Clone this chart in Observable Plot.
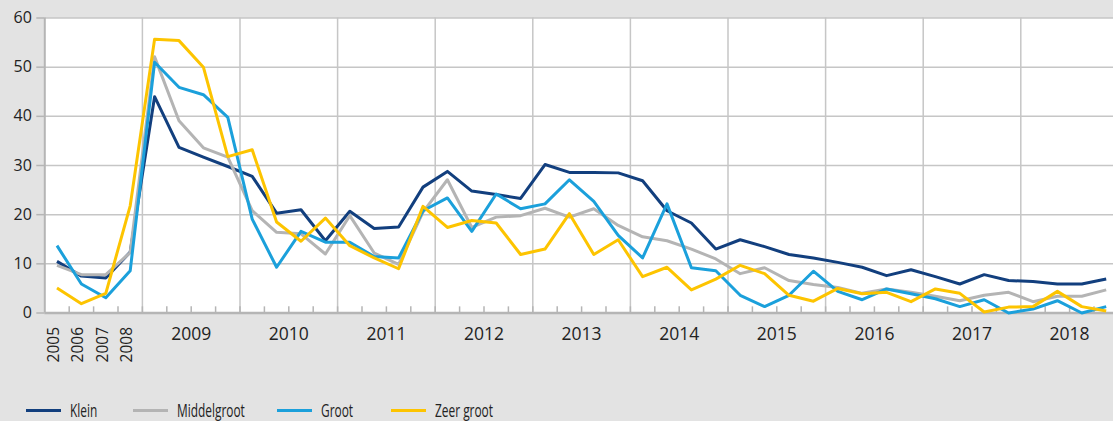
<!DOCTYPE html>
<html><head><meta charset="utf-8">
<script src="https://cdn.jsdelivr.net/npm/d3@7"></script>
<script src="https://cdn.jsdelivr.net/npm/@observablehq/plot@0.6"></script>
<style>
html,body{margin:0;padding:0;background:#e3e3e3;}
body{position:relative;width:1113px;height:421px;overflow:hidden;font-family:"Open Sans",sans-serif;}
#chart svg{display:block;}
#legend{position:absolute;left:0;top:398px;width:1113px;height:24px;font-family:"Open Sans",sans-serif;font-size:17.5px;color:#222;}
.item{position:absolute;top:0;height:24px;display:flex;align-items:center;white-space:nowrap;}
.sw{width:35px;height:3px;margin-right:9px;flex:none;}
.lt{display:inline-block;transform:scaleX(0.68);transform-origin:0 50%;}
</style></head><body>
<div id="chart"></div><div id="legend"></div>
<script>
const periods = [
  "2005","2006","2007","2008",
  "2009 K1","2009 K2","2009 K3","2009 K4",
  "2010 K1","2010 K2","2010 K3","2010 K4",
  "2011 K1","2011 K2","2011 K3","2011 K4",
  "2012 K1","2012 K2","2012 K3","2012 K4",
  "2013 K1","2013 K2","2013 K3","2013 K4",
  "2014 K1","2014 K2","2014 K3","2014 K4",
  "2015 K1","2015 K2","2015 K3","2015 K4",
  "2016 K1","2016 K2","2016 K3","2016 K4",
  "2017 K1","2017 K2","2017 K3","2017 K4",
  "2018 K1","2018 K2","2018 K3","2018 K4"
];
const annualLabels = ["2005","2006","2007","2008"];
const yearLabels = ["2009","2010","2011","2012","2013","2014","2015","2016","2017","2018"];
const yTicks = [0,10,20,30,40,50,60];

const seriesNames = ["Klein","Middelgroot","Groot","Zeer groot"];
const seriesColors = ["#123f7e","#b4b4b4","#1ba0db","#fdc400"];

const klein = [10.5,7.5,7.1,12.4, 44.0,33.7,31.7,29.8, 27.8,20.3,21.0,14.7, 20.7,17.2,17.5,25.6,
  28.8,24.8,24.1,23.3, 30.2,28.6,28.6,28.5, 26.9,20.8,18.3,13.0, 14.9,13.5,11.9,11.2,
  10.3,9.3,7.6,8.8, 7.4,5.9,7.8,6.6, 6.4,5.9,5.9,6.9];
const middelgroot = [9.7,7.8,7.8,12.3, 52.1,39.1,33.6,31.7, 20.8,16.4,16.1,12.0, 19.8,12.2,9.9,20.5,
  27.1,17.4,19.5,19.8, 21.3,19.5,21.2,17.8, 15.5,14.7,13.0,11.0, 8.0,9.2,6.6,5.8,
  5.2,4.0,4.9,4.2, 3.4,2.5,3.6,4.2, 2.3,3.4,3.4,4.7];
const groot = [13.7,5.9,3.1,8.6, 51.0,45.9,44.4,39.8, 19.1,9.3,16.6,14.4, 14.4,11.5,11.2,20.8,
  23.4,16.6,24.2,21.2, 22.2,27.1,22.7,15.8, 11.2,22.2,9.2,8.6, 3.6,1.3,3.6,8.5,
  4.4,2.7,4.9,3.9, 2.9,1.3,2.7,0.0, 0.8,2.5,0.0,1.3];
const zeerGroot = [5.1,1.9,4.0,21.8, 55.7,55.4,50.0,31.8, 33.2,18.5,14.6,19.3, 13.7,11.2,9.0,21.7,
  17.4,18.8,18.3,11.9, 13.0,20.2,11.9,14.9, 7.4,9.3,4.7,6.9, 9.7,8.0,3.6,2.4,
  5.0,3.9,4.2,2.3, 4.9,4.0,0.2,1.2, 1.3,4.4,1.3,0.4];

const seriesValues = [klein, middelgroot, groot, zeerGroot];
const rows = [];
seriesNames.forEach((name, s) => {
  seriesValues[s].forEach((v, i) => rows.push({series: name, period: periods[i], idx: i, value: v}));
});

const annualPos = annualLabels.map(l => ({label: l, idx: periods.indexOf(l)}));
const yearPos = yearLabels.map(y => {
  const ids = periods.map((p, i) => p.startsWith(y) ? i : -1).filter(i => i >= 0);
  return {label: y, first: ids[0], center: (ids[0] + ids[ids.length - 1]) / 2};
});
const boundaries = d3.range(1, periods.length + 1);

const W = 1113, H = 380;
const chart = Plot.plot({
  width: W, height: H,
  marginLeft: 44.3, marginRight: 0, marginTop: 17.5, marginBottom: H - 312.5,
  style: {background: "transparent", fontFamily: "'Open Sans', sans-serif", color: "#222"},
  x: {domain: [0, periods.length], range: [44.3, 44.3 + 24.4 * periods.length], axis: null},
  y: {domain: [0, 60], range: [312.5, 17.5], axis: null},
  color: {domain: seriesNames, range: seriesColors},
  marks: [
    Plot.frame({fill: "white", stroke: null}),
    Plot.ruleY(yTicks.filter(t => t > 0), {stroke: "#c6c6c6", strokeWidth: 1.5}),
    Plot.ruleX(yearPos, {x: "first", y1: 0, y2: 60, stroke: "#c6c6c6", strokeWidth: 1.5}),
    Plot.ruleX(boundaries, {x: d => d, y1: 0, y2: 1.25, stroke: "#b5b5b5", strokeWidth: 1.5}),
    Plot.ruleX([0], {y1: 0, y2: 60, stroke: "#b5b5b5", strokeWidth: 2}),
    Plot.ruleY([0], {stroke: "#b5b5b5", strokeWidth: 2.5}),
    Plot.axisY({ticks: yTicks, label: null, tickSize: 8, tickPadding: 5, stroke: "#b5b5b5", fill: "#222", fontSize: 16, strokeWidth: 1.5}),
    Plot.line(rows, {x: d => d.idx + 0.5, y: "value", z: "series", stroke: "series", strokeWidth: 3, strokeLinejoin: "round", strokeLinecap: "butt"}),
    Plot.text(annualPos, {x: d => d.idx + 0.5, y: 0, text: "label", rotate: -90, textAnchor: "end", dy: 14, dx: -3, fontSize: 15.5, fill: "#222"}),
    Plot.text(yearPos, {x: d => d.center + 0.5, y: 0, text: "label", dy: 21, fontSize: 17.5, fill: "#222"})
  ]
});
document.getElementById("chart").append(chart);

const legendLeft = [26, 133, 277, 391];
const legend = document.getElementById("legend");
seriesNames.forEach((name, i) => {
  const item = document.createElement("div");
  item.className = "item";
  item.style.left = legendLeft[i] + "px";
  const sw = document.createElement("span");
  sw.className = "sw";
  sw.style.background = seriesColors[i];
  const t = document.createElement("span");
  t.className = "lt";
  t.textContent = name;
  item.append(sw, t);
  legend.append(item);
});
</script></body></html>
